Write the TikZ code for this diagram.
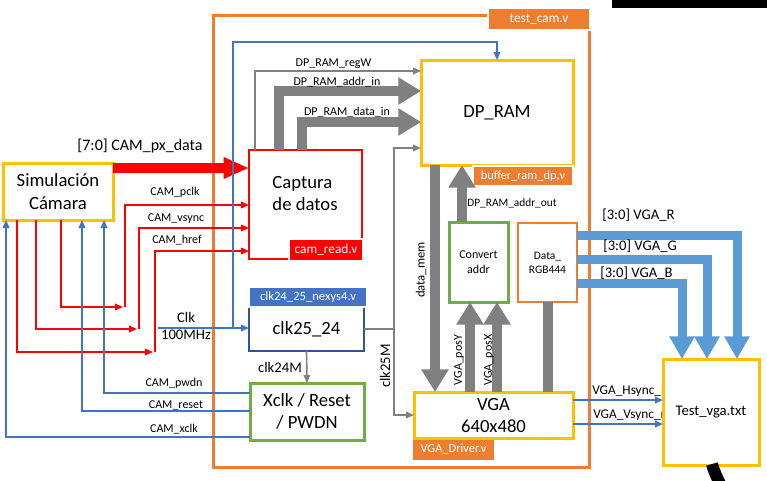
\documentclass[tikz,border=0pt]{standalone}
\usepackage{fontspec}
\setmainfont{Carlito}
\usetikzlibrary{arrows.meta,calc}
\definecolor{cyel}{HTML}{FFC000}
\definecolor{corg}{HTML}{ED7D31}
\definecolor{cgrn}{HTML}{70AD47}
\definecolor{cblu}{HTML}{4472C4}
\definecolor{clb}{HTML}{5B9BD5}
\definecolor{cdb}{HTML}{2F5597}
\definecolor{cgr}{HTML}{808080}
\definecolor{cred}{HTML}{FF0000}
\newcommand\fsz[2]{\fontsize{#1}{#2}\selectfont}
\begin{document}
\begin{tikzpicture}[x=0.75pt,y=-0.75pt,
  box/.style 2 args={draw, fill=white, minimum width=#1*0.75pt, minimum height=#2*0.75pt, inner sep=0pt, outer sep=0pt, align=center},
  tag/.style={text=white, draw=white, line width=1.2pt, font=\fsz{10}{12}},
  txt/.style={inner sep=0pt, font=\fsz{9}{11}},
  rs/.style={draw=cred, line width=1.2pt, -{Triangle[length=6pt,width=5pt]}},
  bs/.style={draw=cblu, line width=1.2pt, -{Triangle[length=6pt,width=5pt]}},
  gs/.style={draw=cgr, line width=1.2pt, -{Triangle[length=6pt,width=5pt]}},
  gt/.style={draw=cgr, line width=7.5pt, -{Triangle[length=17pt,width=19.5pt]}},
  gbar/.style={draw=cgr, line width=7.5pt},
  rt/.style={draw=cred, line width=7.5pt, -{Triangle[length=19pt,width=15pt]}},
  lbt/.style={draw=clb, line width=6.75pt, -{Triangle[length=17pt,width=18pt]}}
]
\useasboundingbox (0,0) rectangle (767,480);
\fill[white] (0,0) rectangle (767,480);

% outer module
\node[box={376}{452}, fill=none, draw=corg, line width=2.25pt] (outer) at (401,241) {};

% Hsync / Vsync labels (partly covered by the Test box drawn after them)
\node[txt, font=\fsz{10}{12}, anchor=west] (lhs) at (592,391) {VGA\_Hsync\_n};
\node[txt, font=\fsz{10}{12}, anchor=west] (lvs) at (593,415) {VGA\_Vsync\_n};

% boxes
\node[box={110}{57}, draw=cyel, line width=2.25pt, font=\fsz{14}{17}] (sim) at (58,191.5) {Simulación\\Cámara};
\node[box={113}{109}, draw=cred, line width=1.6pt] (cap) at (305.5,204.5) {};
\node[box={152}{105}, draw=cyel, line width=2.25pt, font=\fsz{14}{17}] (dpram) at (497,112.5) {DP\_RAM};
\node[box={59}{80}, draw=cgrn, line width=2.25pt, font=\fsz{9}{11}] (conv) at (478.5,262) {Convert\\addr};
\node[box={59}{79}, draw=corg, line width=1.6pt, font=\fsz{8.6}{10.5}] (rgb) at (547.5,262.5) {Data\_\\RGB444};
\node[box={159}{46}, draw=cyel, line width=2.25pt, font=\fsz{14}{16.5}] (vga) at (493.5,415) {VGA\\640x480};
\node[box={115}{44}, draw=cdb, line width=1.6pt, font=\fsz{14}{17}] (clkbox) at (306.5,329) {clk25\_24};
\node[box={114}{57}, draw=cgrn, line width=2.25pt, font=\fsz{14}{16.5}] (xclk) at (307,411.5) {Xclk / Reset\\/ PWDN};
\node[box={96}{106}, draw=cyel, line width=2.25pt, font=\fsz{11}{13}] (test) at (711,412) {Test\_vga.txt};

% module tags
\node[box={102}{22}, tag, fill=corg] (ttc) at (539,19) {test\_cam.v};
\node[box={74}{22}, tag, fill=cred] (tcr) at (326,250) {cam\_read.v};
\node[box={100}{20}, tag, fill=corg, font=\fsz{9.3}{11}] (tbr) at (523,176) {buffer\_ram\_dp,v};
\node[box={118}{20}, tag, fill=cblu, font=\fsz{9.5}{11}] (tck) at (308,297) {clk24\_25\_nexys4.v};
\node[box={81}{20}, tag, draw=none, fill=corg, font=\fsz{9.3}{11}] (tvg) at (453.5,449.5) {VGA\_Driver.v};

% captura text
\node[inner sep=0pt, align=left, font=\fsz{14}{16.5}] (captxt) at (305,194) {Captura\\de datos};

% helper coordinates
\coordinate (pclkA) at (123,307); \coordinate (pclkB) at (125,307);
\coordinate (vsA) at (137,329);   \coordinate (vsB) at (139,329);
\coordinate (hrA) at (153,352);   \coordinate (hrB) at (155,352);
\coordinate (clkin) at (158,328); \coordinate (clkbr) at (233,328);
\coordinate (c25top) at (394,148); \coordinate (c25bot) at (394,415);

% camera data
\draw[rt] (sim.east |- 0,168) -- (cap.west |- 0,168);
\draw[rs] (sim.south -| 61,0) |- (pclkA);
\draw[rs] (pclkB) |- (cap.west |- 0,205);
\draw[rs] (sim.south -| 36,0) |- (vsA);
\draw[rs] (vsB) |- (cap.west |- 0,228);
\draw[rs] (sim.south -| 17,0) |- (hrA);
\draw[rs] (hrB) |- (cap.west |- 0,251);

% camera control
\draw[bs] (xclk.west |- 0,393) -| (sim.south -| 104,0);
\draw[bs] (xclk.west |- 0,411) -| (sim.south -| 82,0);
\draw[bs] (xclk.west |- 0,437) -| (sim.south -| 6,0);

% clocks
\draw[bs] (clkin) -- (clkbox.west |- clkin);
\draw[bs] (clkbr) |- (dpram.north |- 0,42) -- (dpram.north);
\draw[gs] (clkbox.east) -| (c25top) -- (dpram.west |- c25top);
\draw[gs] (clkbox.east) -| (c25bot) -- (vga.west |- c25bot);
\draw[gs] (clkbox.south) -- (xclk.north);

% RAM write
\draw[gs] (cap.north -| 255,0) |- (dpram.west |- 0,71);
\draw[gt] (cap.north -| 279,0) |- (dpram.west |- 0,91);
\draw[gt] (cap.north -| 302,0) |- (dpram.west |- 0,122);

% VGA side
\draw[gt] (dpram.south -| 435,0) -- (vga.north -| 435,0);
\draw[gt] (conv.north -| 462,0) -- (dpram.south -| 462,0);
\draw[gt] (vga.north -| 470,0) -- (conv.south -| 470,0);
\draw[gt] (vga.north -| 497,0) -- (conv.south -| 497,0);
\draw[gbar] (rgb.south -| 548,0) -- (vga.north -| 548,0);

\draw[lbt] (rgb.east |- 0,235) -| (test.north -| 737,0);
\draw[lbt] (rgb.east |- 0,259) -| (test.north -| 707,0);
\draw[lbt] (rgb.east |- 0,283) -| (test.north -| 682,0);

\draw[bs] (vga.east |- 0,400) -- (test.west |- 0,400);
\draw[bs] (vga.east |- 0,424) -- (test.west |- 0,424);

% labels
\node[txt, font=\fsz{12}{14}] (lpx) at (140,146) {[7:0] CAM\_px\_data};
\node[txt] (lpc) at (175,192) {CAM\_pclk};
\node[txt] (lvy) at (176,219) {CAM\_vsync};
\node[txt] (lhr) at (177,240) {CAM\_href};
\node[txt, font=\fsz{11}{13}] (lclk) at (186,317) {Clk};
\node[txt, font=\fsz{11}{13}] (l100) at (186,335) {100MHz};
\node[txt] (lpw) at (174,383) {CAM\_pwdn};
\node[txt] (lrs) at (176,405) {CAM\_reset};
\node[txt] (lxc) at (174,429) {CAM\_xclk};
\node[txt] (lrw) at (333.5,64) {DP\_RAM\_regW};
\node[txt] (lai) at (337,82) {DP\_RAM\_addr\_in};
\node[txt] (ldi) at (347,112) {DP\_RAM\_data\_in};
\node[txt, font=\fsz{8.5}{10}] (lao) at (512,203) {DP\_RAM\_addr\_out};
\node[txt, font=\fsz{9.5}{11}, rotate=90] (ldm) at (421,270) {data\_mem};
\node[txt, font=\fsz{11}{13}, rotate=90] (l25) at (385,366) {clk25M};
\node[txt, font=\fsz{11}{13}] (l24) at (280,367) {clk24M};
\node[txt, rotate=90] (lpy) at (459,360) {VGA\_posY};
\node[txt, rotate=90] (lpxx) at (489,360) {VGA\_posX};
\node[txt, font=\fsz{11}{13}, anchor=west] (lr) at (602,215) {[3:0] VGA\_R};
\node[txt, font=\fsz{11}{13}, anchor=west] (lg) at (603,246) {[3:0] VGA\_G};
\node[txt, font=\fsz{11}{13}, anchor=west] (lb) at (600,273) {[3:0] VGA\_B};

% cropped remnants at the edges
\fill[black] (612,0) rectangle (767,8);
\draw[line width=9pt, black] (712,464) .. controls (714,472) and (717,477) .. (721,486);
\end{tikzpicture}
\end{document}
